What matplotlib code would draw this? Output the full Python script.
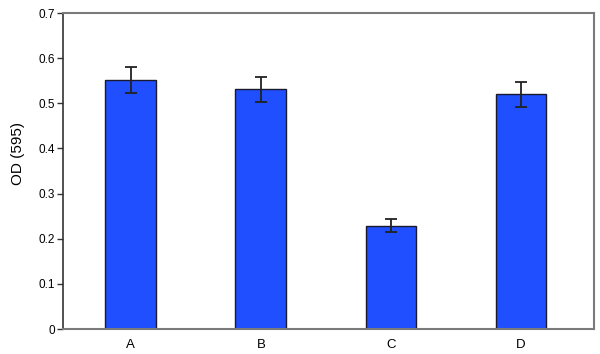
import matplotlib
matplotlib.use("Agg")
import matplotlib.pyplot as plt

groups = ["A", "B", "C", "D"]
od_means = [0.552, 0.531, 0.229, 0.520]
od_errors = [0.028, 0.028, 0.015, 0.028]

plt.rcParams['font.family'] = ['Liberation Sans', 'DejaVu Sans']

fig = plt.figure(figsize=(6, 3.54), dpi=100)
ax = fig.add_axes([0.105, 0.0706, 0.885, 0.8925])

x = range(len(groups))
ax.bar(x, od_means, width=0.39, color="#1f4fff", edgecolor="#1a1a2e", linewidth=1.0,
       yerr=od_errors, error_kw=dict(ecolor="#222222", elinewidth=1.3, capsize=4, capthick=1.3))

ax.set_xlim(-0.52, 3.56)
ax.set_ylim(0, 0.7)
ax.set_xticks(list(x))
ax.set_xticklabels(groups, fontsize=9.5)
ax.set_yticks([0, 0.1, 0.2, 0.3, 0.4, 0.5, 0.6, 0.7])
ax.set_yticklabels(["0", "0.1", "0.2", "0.3", "0.4", "0.5", "0.6", "0.7"], fontsize=8.5)
ax.set_ylabel("OD (595)", fontsize=11)
ax.yaxis.set_label_coords(-0.072, 0.557)

for side in ["top", "right", "bottom"]:
    ax.spines[side].set_color("#7a7a7a")
    ax.spines[side].set_linewidth(1.5)
ax.spines["left"].set_color("#333333")
ax.spines["left"].set_linewidth(1.2)
ax.tick_params(axis="y", length=4, width=1, color="#333333", pad=2)
ax.tick_params(axis="x", length=0, pad=7)

fig.savefig("out.png", dpi=100)
